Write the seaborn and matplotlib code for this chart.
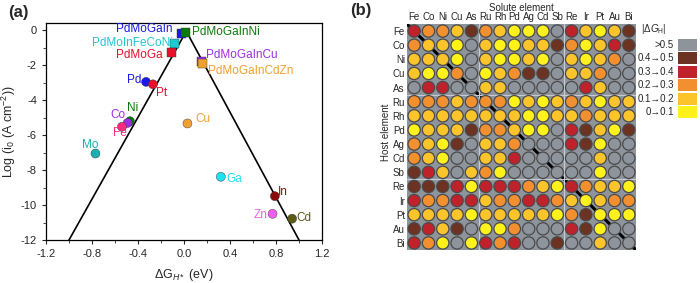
import matplotlib
matplotlib.use('Agg')
import matplotlib.pyplot as plt
from matplotlib.patches import Rectangle
import numpy as np
import pandas as pd
import seaborn as sns

sns.set_style('white')
plt.rcParams['font.family'] = ['Liberation Sans', 'DejaVu Sans']
plt.rcParams['mathtext.fontset'] = 'custom'
plt.rcParams['mathtext.rm'] = 'Liberation Sans'
plt.rcParams['mathtext.it'] = 'Liberation Sans:italic'

# ---- panel (a): volcano data ----
names = ['PdMoGaIn', 'PdMoGaInNi', 'PdMoInFeCoNi', 'PdMoGa', 'PdMoGaInCu', 'PdMoGaInCdZn',
         'Pd', 'Pt', 'Ni', 'Co', 'Fe', 'Cu', 'Mo', 'Ga', 'In', 'Zn', 'Cd']
dG = [-0.02, 0.01, -0.08, -0.11, 0.15, 0.16,
      -0.33, -0.27, -0.47, -0.49, -0.54, 0.03, -0.77, 0.32, 0.79, 0.77, 0.94]
log_i0 = [-0.19, -0.1, -0.76, -1.28, -1.77, -1.9,
          -2.95, -3.09, -5.2, -5.3, -5.52, -5.33, -7.05, -8.38, -9.49, -10.5, -10.78]
kind = ['alloy'] * 6 + ['metal'] * 11
colors = ['#1a1ae6', '#0a7a0a', '#20c8d0', '#e8102a', '#9a30e0', '#f0a030',
          '#1a1ae6', '#e8102a', '#0a7a0a', '#9a30e0', '#ff2a80', '#f0a030',
          '#18b0b0', '#20e0f0', '#8a0a0a', '#f060f0', '#5a5a10']
label_x = [-0.10, 0.07, -0.10, -0.19, 0.19, 0.21,
           -0.37, -0.24, -0.50, -0.51, -0.62, 0.10, -0.89, 0.37, 0.82, 0.73, 0.975]
label_y = [0.1, -0.1, -0.7, -1.43, -1.43, -2.33,
           -2.86, -3.58, -4.42, -4.86, -5.9, -5.09, -6.57, -8.53, -9.24, -10.59, -10.76]
label_ha = ['right', 'left', 'right', 'right', 'left', 'left',
            'right', 'left', 'left', 'right', 'left', 'left', 'left', 'left', 'left', 'right', 'left']
volcano_x = [-1.0, 0.02, 1.0]
volcano_y = [-12.0, -0.05, -12.0]

# ---- panel (b): |dG_H| class matrix ----
elements = ['Fe', 'Co', 'Ni', 'Cu', 'As', 'Ru', 'Rh', 'Pd', 'Ag', 'Cd', 'Sb', 'Re', 'Ir', 'Pt', 'Au', 'Bi']
levels = [
    [3, 2, 2, 1, 4, 2, 1, 0, 0, 0, 5, 3, 1, 0, 1, 4],
    [2, 1, 1, 0, 5, 1, 0, 0, 1, 1, 4, 2, 0, 1, 3, 4],
    [1, 1, 1, 0, 5, 1, 0, 0, 1, 0, 5, 1, 0, 1, 2, 5],
    [1, 0, 0, 2, 5, 0, 1, 2, 4, 4, 5, 1, 1, 2, 5, 5],
    [5, 3, 3, 5, 5, 1, 1, 5, 5, 5, 5, 5, 3, 1, 5, 5],
    [2, 2, 2, 1, 2, 2, 2, 0, 1, 0, 1, 2, 1, 0, 1, 1],
    [1, 1, 1, 1, 1, 1, 1, 1, 0, 0, 1, 1, 2, 1, 1, 1],
    [0, 1, 1, 1, 4, 2, 2, 1, 0, 0, 5, 3, 4, 1, 0, 4],
    [2, 1, 0, 4, 5, 1, 1, 2, 5, 5, 5, 3, 4, 0, 5, 5],
    [2, 1, 0, 5, 5, 1, 1, 3, 5, 5, 5, 5, 5, 1, 5, 5],
    [4, 3, 1, 5, 1, 2, 0, 5, 5, 5, 5, 5, 5, 0, 5, 5],
    [4, 4, 4, 3, 0, 3, 3, 3, 2, 1, 0, 3, 2, 1, 1, 0],
    [3, 2, 2, 3, 3, 1, 2, 2, 3, 3, 2, 1, 0, 1, 2, 2],
    [1, 1, 1, 1, 0, 1, 1, 1, 1, 1, 0, 2, 4, 0, 0, 0],
    [4, 3, 1, 4, 5, 0, 0, 2, 5, 5, 5, 3, 4, 0, 5, 5],
    [3, 2, 0, 5, 0, 3, 2, 3, 5, 5, 4, 5, 5, 1, 5, 5],
]
level_labels = ['0\u21920.1', '0.1\u21920.2', '0.2\u21920.3', '0.3\u21920.4', '0.4\u21920.5', '>0.5']
level_colors = ['#fff21a', '#fbc42a', '#f29030', '#c0222c', '#6c3222', '#8e949c']

fig = plt.figure(figsize=(7, 2.83), dpi=100)

# ================= panel (a) =================
ax = fig.add_axes([46 / 700, 43 / 283, 276 / 700, 217 / 283])
df = pd.DataFrame({'dG': dG, 'logi': log_i0, 'name': names, 'kind': kind})
ax.plot(volcano_x, volcano_y, color='black', lw=1.2, zorder=1)
sns.scatterplot(data=df, x='dG', y='logi', hue='name', palette=dict(zip(names, colors)),
                style='kind', markers={'alloy': 's', 'metal': 'o'}, s=42,
                edgecolor='#333333', linewidth=0.3, legend=False, ax=ax, zorder=3)
for nm, tx, ty, ha, c in zip(names, label_x, label_y, label_ha, colors):
    ax.text(tx, ty, nm, color=c, fontsize=8.5, ha=ha, va='center', zorder=4)
ax.set_xlim(-1.2, 1.2)
ax.set_ylim(-12, 0.42)
ax.set_xticks([-1.2, -0.8, -0.4, 0.0, 0.4, 0.8, 1.2])
ax.set_xticks(np.arange(-1.0, 1.2, 0.4), minor=True)
ax.set_yticks([0, -2, -4, -6, -8, -10, -12])
ax.set_yticks([-1, -3, -5, -7, -9, -11], minor=True)
ax.set_xticklabels(['-1.2', '-0.8', '-0.4', '0.0', '0.4', '0.8', '1.2'])
ax.set_yticklabels(['0', '-2', '-4', '-6', '-8', '-10', '-12'])
ax.tick_params(which='major', direction='out', length=3, width=0.8, labelsize=8,
               bottom=True, left=True)
ax.tick_params(which='minor', direction='out', length=2, width=0.6, bottom=True, left=True)
for sp in ax.spines.values():
    sp.set_color('black')
    sp.set_linewidth(0.9)
ax.set_xlabel(r'$\Delta$G$_{H*}$ (eV)', fontsize=9, labelpad=6)
ax.set_ylabel(r'Log (i$_0$ (A cm$^{-2}$))', fontsize=9, labelpad=2)
fig.text(8 / 700, 1 - 13 / 283, '(a)', fontsize=12, fontweight='bold', va='center')

# ================= panel (b) =================
bx = fig.add_axes([407 / 700, 33 / 283, 229 / 700, 226 / 283])
bx.set_facecolor('#8e949c')
cells = pd.DataFrame([(j, i, level_labels[levels[i][j]])
                      for i in range(len(elements)) for j in range(len(elements))],
                     columns=['solute', 'host', 'level'])
n = len(elements)
bx.plot([-0.5, n - 0.5], [-0.5, n - 0.5], color='black', lw=2.2, zorder=1)
for v in [4.5, 10.5]:
    bx.axvline(v, color='#c8ccd2', lw=0.8, zorder=1)
    bx.axhline(v, color='#c8ccd2', lw=0.8, zorder=1)
sns.scatterplot(data=cells, x='solute', y='host', hue='level',
                palette=dict(zip(level_labels, level_colors)), s=78,
                edgecolor='#4a4a4a', linewidth=0.9, legend=False, ax=bx, zorder=3)
bx.set_xlim(-0.5, n - 0.5)
bx.set_ylim(n - 0.5, -0.5)
bx.xaxis.tick_top()
bx.set_xticks(range(n))
bx.set_yticks(range(n))
bx.set_xticklabels(elements, fontsize=7)
bx.set_yticklabels(elements, fontsize=7)
bx.tick_params(length=0, pad=1.5)
bx.set_xlabel('')
bx.set_ylabel('')
for sp in bx.spines.values():
    sp.set_visible(False)
fig.text(521 / 700, 1 - 8 / 283, 'Solute element', fontsize=7, ha='center', va='center')
fig.text(386 / 700, 1 - 132 / 283, 'Host element', fontsize=7, ha='center', va='center',
         rotation=90)
fig.text(350 / 700, 1 - 11 / 283, '(b)', fontsize=12, fontweight='bold', va='center')

# legend
lx = fig.add_axes([0, 0, 1, 1], zorder=5)
lx.set_xlim(0, 700)
lx.set_ylim(283, 0)
lx.axis('off')
lx.text(654, 29, r'$|\Delta G_{\rm H}|$', fontsize=7, ha='center', va='center')
for k, (lab, col) in enumerate(zip(level_labels[::-1], level_colors[::-1])):
    yc = 45 + k * 13.4
    lx.add_patch(Rectangle((678, yc - 6), 19, 12, facecolor=col, edgecolor='none'))
    lx.text(674, yc, lab, fontsize=7, ha='right', va='center')

fig.savefig('out.png', dpi=100)
